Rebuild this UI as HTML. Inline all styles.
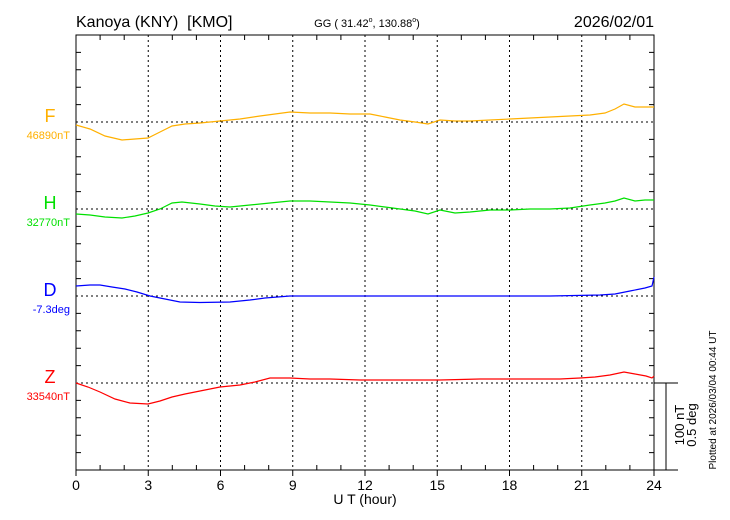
<!DOCTYPE html>
<html><head><style>body{margin:0;background:#fff}svg{display:block;font-family:"Liberation Sans",sans-serif}</style></head><body>
<svg width="730" height="520" viewBox="0 0 730 520" xmlns="http://www.w3.org/2000/svg">
<rect width="730" height="520" fill="#fff"/>
<g stroke="#000" stroke-width="1" stroke-dasharray="2,3" fill="none">
<line x1="148.25" y1="35" x2="148.25" y2="470"/><line x1="220.5" y1="35" x2="220.5" y2="470"/><line x1="292.75" y1="35" x2="292.75" y2="470"/><line x1="365" y1="35" x2="365" y2="470"/><line x1="437.25" y1="35" x2="437.25" y2="470"/><line x1="509.5" y1="35" x2="509.5" y2="470"/><line x1="581.75" y1="35" x2="581.75" y2="470"/>
<line x1="76" y1="122" x2="654" y2="122"/><line x1="76" y1="209" x2="654" y2="209"/><line x1="76" y1="296" x2="654" y2="296"/><line x1="76" y1="383" x2="654" y2="383"/>
</g>
<g id="ticks" stroke="#000" stroke-width="1">
<rect x="76" y="35" width="578" height="435" fill="none"/>
<path d="M76 52.4h5M76 69.8h5M76 87.2h5M76 104.6h5M76 139.4h5M76 156.8h5M76 174.2h5M76 191.6h5M76 226.4h5M76 243.8h5M76 261.2h5M76 278.6h5M76 313.4h5M76 330.8h5M76 348.2h5M76 365.6h5M76 400.4h5M76 417.8h5M76 435.2h5M76 452.6h5
M654 52.4h-5M654 69.8h-5M654 87.2h-5M654 104.6h-5M654 139.4h-5M654 156.8h-5M654 174.2h-5M654 191.6h-5M654 226.4h-5M654 243.8h-5M654 261.2h-5M654 278.6h-5M654 313.4h-5M654 330.8h-5M654 348.2h-5M654 365.6h-5M654 400.4h-5M654 417.8h-5M654 435.2h-5M654 452.6h-5"/>
<path d="M100.1 35v5M124.2 35v5M172.3 35v5M196.4 35v5M244.6 35v5M268.7 35v5M316.8 35v5M340.9 35v5M389.1 35v5M413.2 35v5M461.3 35v5M485.4 35v5M533.6 35v5M557.7 35v5M605.8 35v5M629.9 35v5
M100.1 470v-5M124.2 470v-5M172.3 470v-5M196.4 470v-5M244.6 470v-5M268.7 470v-5M316.8 470v-5M340.9 470v-5M389.1 470v-5M413.2 470v-5M461.3 470v-5M485.4 470v-5M533.6 470v-5M557.7 470v-5M605.8 470v-5M629.9 470v-5"/>
<path d="M76 470v6M148.25 470v6M220.5 470v6M292.75 470v6M365 470v6M437.25 470v6M509.5 470v6M581.75 470v6M654 470v6"/>
<path d="M654 383h24M654 470h24M666 383v87"/>
</g>
<g fill="none" stroke-width="1.2">
<polyline stroke="#ffb000" points="76,125 90,129 105,136 122,140 135,139 148,138 160,132 172,126 185,124 200,123 220,121 240,119 260,116 275,114 290,112 310,113 330,113 350,114 370,114 385,117 400,120 415,122 428,124 440,120 455,121 470,121 490,120 510,119 530,118 550,117 570,116 590,115 605,113 615,109 624,104 635,107 645,107 654,107"/>
<polyline stroke="#00e000" points="76,214 90,215 105,217 122,218 135,216 148,213 160,209 172,203 182,202 200,204 215,206 230,207 250,205 270,203 290,201 310,201 330,202 350,203 370,205 385,207 400,209 415,211 428,214 440,210 455,213 470,212 490,210 510,210 530,209 550,209 570,208 590,205 605,203 615,201 624,198 635,201 645,200 654,200"/>
<polyline stroke="#0000ff" points="76,286 90,285 100,285 112,287 125,289 137,292 150,296 165,299 180,302 200,302.5 230,302 250,300 265,298 290,296 320,296 360,296 400,296 450,296 500,296 550,296 600,295 615,294 630,291 645,288 652,286 654,277"/>
<polyline stroke="#ff0000" points="76,383 88,387 100,392 115,399 130,403 148,404 160,401 172,397 185,394 200,391 220,387 240,385 255,382 270,378 290,378 310,379 330,379 360,380 400,380 440,380 480,379 520,379 560,379 580,378 595,377 610,375 624,372 635,374 646,376 652,378 654,376"/>
</g>
<text x="76" y="27" font-size="16" fill="#000">Kanoya (KNY)&#160;&#160;[KMO]</text>
<text x="367" y="27" font-size="11" text-anchor="middle" fill="#000">GG ( 31.42<tspan font-size="7" dy="-5">o</tspan><tspan dy="5">, 130.88</tspan><tspan font-size="7" dy="-5">o</tspan><tspan dy="5">)</tspan></text>
<text x="654" y="27" font-size="16" text-anchor="end" fill="#000">2026/02/01</text>
<g font-size="18" text-anchor="middle">
<text x="50" y="122" fill="#ffb000">F</text>
<text x="50" y="209" fill="#00e000">H</text>
<text x="50" y="296" fill="#0000ff">D</text>
<text x="50" y="383" fill="#ff0000">Z</text>
</g>
<g font-size="11" text-anchor="end">
<text x="70" y="139" fill="#ffb000">46890nT</text>
<text x="70" y="226" fill="#00e000">32770nT</text>
<text x="70" y="313" fill="#0000ff">-7.3deg</text>
<text x="70" y="400" fill="#ff0000">33540nT</text>
</g>
<g font-size="14" text-anchor="middle" fill="#000">
<text x="76" y="490">0</text><text x="148.25" y="490">3</text><text x="220.5" y="490">6</text><text x="292.75" y="490">9</text><text x="365" y="490">12</text><text x="437.25" y="490">15</text><text x="509.5" y="490">18</text><text x="581.75" y="490">21</text><text x="654" y="490">24</text>
<text x="365" y="504">U T (hour)</text>
</g>
<text transform="translate(684,425) rotate(-90)" font-size="13" text-anchor="middle">100 nT</text>
<text transform="translate(696,425) rotate(-90)" font-size="13" text-anchor="middle">0.5 deg</text>
<text transform="translate(716,400) rotate(-90)" font-size="10" text-anchor="middle">Plotted at 2026/03/04 00:44 UT</text>
</svg>
</body></html>
